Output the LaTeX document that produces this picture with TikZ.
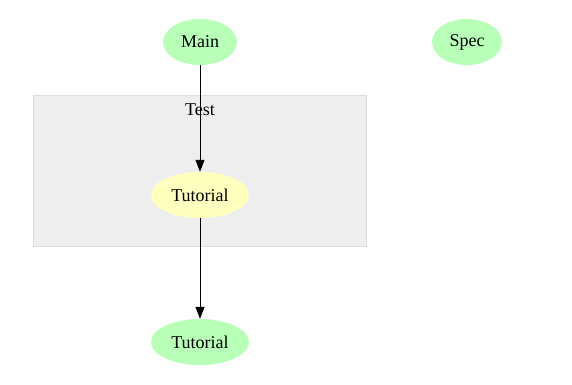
\documentclass[tikz,border=0pt]{standalone}
\usepackage{fontspec}
\setmainfont{Liberation Serif}
\usetikzlibrary{positioning, shapes.geometric, arrows.meta}
\definecolor{nodegreen}{RGB}{184,255,184}
\definecolor{nodeyellow}{RGB}{255,255,190}
\definecolor{clusterfill}{RGB}{238,238,238}
\definecolor{clusterline}{RGB}{222,222,222}

\begin{document}
\begin{tikzpicture}[
    x=1pt, y=-1pt,
    lbl/.style={font=\fontsize{18}{20}\selectfont},
    mod/.style={
        lbl,
        ellipse,
        fill=nodegreen,
        inner sep=0pt,
        minimum height=46pt,
    },
    sub/.style={mod, fill=nodeyellow},
    cluster/.style={draw=clusterline, fill=clusterfill, line width=0.8pt},
    dep/.style={-{Triangle[length=12pt, width=9pt]}, line width=1pt, color=black}
]
\useasboundingbox (0,0) rectangle (572,384);
\draw[cluster] (33.5,95.5) rectangle (366,246);
\node[lbl] (TestLbl) at (200,110) {Test};

\node[mod, minimum width=74pt] (Main) at (200,42) {Main};
\node[mod, minimum width=70pt] (Spec) at (467,42) {Spec};
\node[sub, minimum width=98pt] (TutTest) at (200,195) {Tutorial};
\node[mod, minimum width=98pt] (Tut) at (200,342) {Tutorial};

\draw[dep] (Main) -- (TutTest);
\draw[dep] (TutTest) -- (Tut);
\end{tikzpicture}
\end{document}
